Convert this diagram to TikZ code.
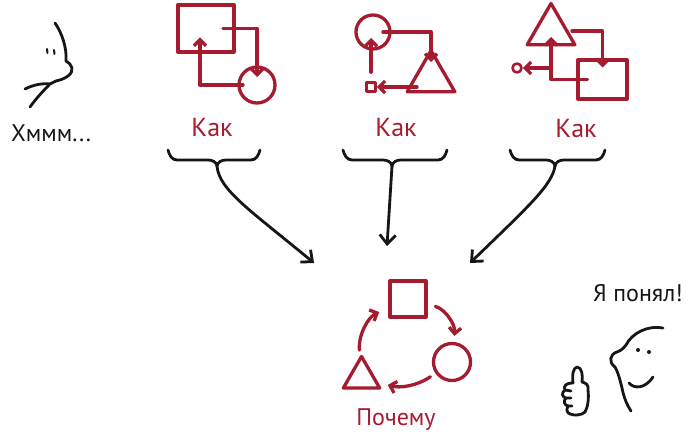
\documentclass[tikz,border=0pt]{standalone}
\usepackage{fontspec}
\newfontfamily\hand{PT Sans}
\usetikzlibrary{arrows.meta,shapes.geometric}
\definecolor{inkred}{RGB}{165,28,48}
\definecolor{inkblack}{RGB}{22,22,22}
\tikzset{
  pen/.style = {draw=inkblack, line width=2.8pt, line cap=round, line join=round},
  redpen/.style = {draw=inkred, line width=3.3pt, line cap=round, line join=round},
  box/.style 2 args = {redpen, rectangle, minimum width=#1, minimum height=#2,
                       inner sep=0pt},
  ring/.style = {redpen, circle, minimum size=#1, inner sep=0pt},
  tri/.style = {redpen, regular polygon, regular polygon sides=3,
                minimum size=#1, inner sep=0pt},
  flow/.style = {redpen, -{Straight Barb[length=6pt,width=12pt]}},
  bigarrow/.style = {pen, -{Straight Barb[length=9pt,width=16pt]}},
  label/.style = {anchor=base, inner sep=0pt, font=\hand\fontsize{#1}{#1}\selectfont}
}

\begin{document}
\begin{tikzpicture}[x=1pt, y=-1pt]
	\useasboundingbox[fill=white] (0,0) rectangle (690,438);

	% How 1: square and circle
	\node[box={56pt}{47pt}] (sqA) at (206,28.5) {};
	\node[ring=36pt] (cirA) at (257,85) {};
	\draw[flow, shorten <=17pt, shorten >=8pt] (sqA.center) -| (cirA.center);
	\draw[flow, shorten <=14pt, shorten >=9pt] (cirA.center) -| ([xshift=-6pt]sqA.center);

	% How 2: circle, triangle, small square
	\node[ring=34pt] (cirC) at (373,32) {};
	\node[tri=55pt] (triC) at (431,78) {};
	\node[box={9pt}{9pt}, line width=2.6pt] (sqS) at (371,87) {};
	\draw[flow, shorten <=10pt, shorten >=16pt] (cirC.center) -| (triC.center);
	\draw[flow, shorten <=14pt] (sqS -| triC.center) -- (sqS);
	\draw[flow, shorten <=9pt, shorten >=6pt] (sqS.north) -- (sqS.north |- cirC.center);

	% How 3: triangle, square, small circle
	\node[tri=55pt] (triD) at (551,31) {};
	\node[box={49pt}{39pt}] (sqD) at (602.5,79.5) {};
	\node[ring=9pt, line width=2.6pt] (cirS) at (517,68) {};
	\draw[flow, shorten <=21pt, shorten >=12pt] (triD.center) -| (sqD.center);
	\draw[flow, shorten <=15pt, shorten >=6pt] (sqD.center) -| (triD.center);
	\draw[flow] (cirS -| triD.center) -- (cirS);

	% Labels
	\node[label=26, text=inkred] (howA) at (212,137) {Как};
	\node[label=26, text=inkred] (howB) at (396,137) {Как};
	\node[label=26, text=inkred] (howC) at (576,138) {Как};

	% Braces
	\foreach \l/\m/\r/\n in {168/217/260/A, 343/392/447/B, 510/555/605/C} {
		\draw[pen] (\l,150) to[out=-75,in=180] (\l+9,160) -- (\m-9,160)
			to[out=0,in=100] (\m,166) to[out=80,in=180] (\m+9,160)
			-- (\r-9,160) to[out=0,in=-105] (\r,150);
		\coordinate (tip\n) at (\m,166);
	}

	% Arrows down to the cycle
	\coordinate (inA) at (314,263);
	\coordinate (inB) at (387,246);
	\coordinate (inC) at (470,263);
	\draw[bigarrow] (tipA) .. controls (219,190) and (250,210) .. (inA);
	\draw[bigarrow] (tipB) -- (inB);
	\draw[bigarrow] (tipC) .. controls (552,185) and (530,205) .. (inC);

	% Why: the cycle
	\node[box={36pt}{36pt}] (sqB) at (408,299) {};
	\node[ring=37pt] (cirB) at (452,362) {};
	\node[tri=42pt] (triB) at (361.5,377.5) {};
	\draw[flow, shorten <=8pt, shorten >=6pt] (sqB) to[bend left=40] (cirB);
	\draw[flow, shorten <=6pt, shorten >=10pt] (cirB) to[bend left=25] (triB);
	\draw[flow, shorten <=6pt, shorten >=10pt] (triB) to[bend left=35] (sqB);
	\node[label=24, text=inkred] (why) at (396,425) {Почему};

	% Thinking face
	\draw[pen] (55,23) .. controls (62,33) and (67,48) .. (66,61)
		.. controls (72,64) and (75,71) .. (68,76) .. controls (64,79) and (60,80) .. (56,81);
	\draw[pen] (56,81) -- (50,84) .. controls (42,92) and (35,100) .. (30,107);
	\draw[pen] (25,89) .. controls (33,85) and (42,83) .. (50,84);
	\draw[pen, line width=2pt] (47,49) -- (47.5,53);
	\draw[pen, line width=2pt] (54,50) -- (54.5,54);
	\node[label=24, text=inkblack] (hmm) at (51,142) {Хммм...};

	% Happy face
	\draw[pen] (663,328) .. controls (648,325) and (632,333) .. (626,345)
		.. controls (623,349) and (620,351) .. (617,352)
		.. controls (610,354) and (608,362) .. (615,367)
		.. controls (618,372) and (620,380) .. (622,388)
		.. controls (624,398) and (627,405) .. (631,411);
	\fill[inkblack] (638,350) circle (2);
	\fill[inkblack] (649,352) circle (2);
	\draw[pen] (629,383) .. controls (634,389) and (645,389) .. (653,377);

	% Thumb up
	\draw[pen] (573,383) .. controls (572,375) and (573,368) .. (577,367)
		.. controls (582,367) and (583,376) .. (582,382)
		.. controls (586,383) and (589,385) .. (588,390)
		.. controls (589,398) and (588,407) .. (585,412)
		.. controls (582,415) and (575,416) .. (570,414);
	\draw[pen] (573,383) .. controls (566,383) and (563,386) .. (565,390) -- (571,391);
	\draw[pen] (565,390) .. controls (561,393) and (562,397) .. (566,398) -- (571,398);
	\draw[pen] (566,398) .. controls (563,401) and (564,405) .. (568,406) -- (572,406);
	\draw[pen] (568,406) .. controls (566,410) and (567,413) .. (570,414);
	\node[label=24, text=inkblack] (got) at (638,301) {Я понял!};
\end{tikzpicture}
\end{document}
